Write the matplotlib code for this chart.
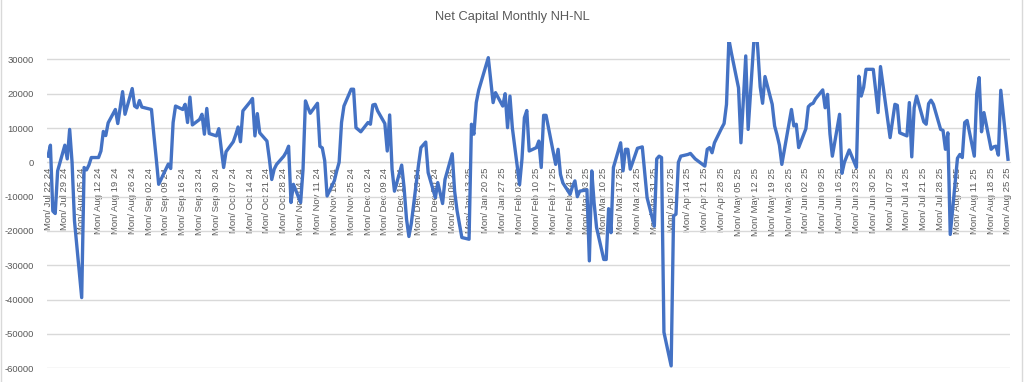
import numpy as np
import pandas as pd
import matplotlib
matplotlib.use("Agg")
import matplotlib.pyplot as plt
from matplotlib.patches import Rectangle

# daily NH-NL net capital readings
dates = [
    "2024-07-22", "2024-07-23", "2024-07-24", "2024-07-25", "2024-07-26", "2024-07-29", "2024-07-30", "2024-07-31",
    "2024-08-01", "2024-08-02", "2024-08-05", "2024-08-06", "2024-08-07", "2024-08-08", "2024-08-09", "2024-08-12",
    "2024-08-13", "2024-08-14", "2024-08-15", "2024-08-16", "2024-08-19", "2024-08-20", "2024-08-21", "2024-08-22",
    "2024-08-23", "2024-08-26", "2024-08-27", "2024-08-28", "2024-08-29", "2024-08-30",
    "2024-09-03", "2024-09-04", "2024-09-05", "2024-09-06", "2024-09-09", "2024-09-10", "2024-09-11", "2024-09-12",
    "2024-09-13", "2024-09-16", "2024-09-17", "2024-09-18", "2024-09-19", "2024-09-20", "2024-09-23", "2024-09-24",
    "2024-09-25", "2024-09-26", "2024-09-27", "2024-09-30",
    "2024-10-01", "2024-10-02", "2024-10-03", "2024-10-04", "2024-10-07", "2024-10-08", "2024-10-09", "2024-10-10",
    "2024-10-11", "2024-10-14", "2024-10-15", "2024-10-16", "2024-10-17", "2024-10-18", "2024-10-21", "2024-10-22",
    "2024-10-23", "2024-10-24", "2024-10-25", "2024-10-28", "2024-10-29", "2024-10-30", "2024-10-31",
    "2024-11-01", "2024-11-04", "2024-11-05", "2024-11-06", "2024-11-07", "2024-11-08", "2024-11-11", "2024-11-12",
    "2024-11-13", "2024-11-14", "2024-11-15", "2024-11-18", "2024-11-19", "2024-11-20", "2024-11-21", "2024-11-22",
    "2024-11-25", "2024-11-26", "2024-11-27", "2024-11-29",
    "2024-12-02", "2024-12-03", "2024-12-04", "2024-12-05", "2024-12-06", "2024-12-09", "2024-12-10", "2024-12-11",
    "2024-12-12", "2024-12-13", "2024-12-16", "2024-12-17", "2024-12-18", "2024-12-19", "2024-12-20", "2024-12-23",
    "2024-12-24", "2024-12-26", "2024-12-27", "2024-12-30", "2024-12-31",
    "2025-01-02", "2025-01-03", "2025-01-06", "2025-01-07", "2025-01-08", "2025-01-10", "2025-01-13", "2025-01-14",
    "2025-01-15", "2025-01-16", "2025-01-17", "2025-01-21", "2025-01-22", "2025-01-23", "2025-01-24", "2025-01-27",
    "2025-01-28", "2025-01-29", "2025-01-30", "2025-01-31",
    "2025-02-03", "2025-02-04", "2025-02-05", "2025-02-06", "2025-02-07", "2025-02-10", "2025-02-11", "2025-02-12",
    "2025-02-13", "2025-02-14", "2025-02-18", "2025-02-19", "2025-02-20", "2025-02-21", "2025-02-24", "2025-02-25",
    "2025-02-26", "2025-02-27", "2025-02-28",
    "2025-03-03", "2025-03-04", "2025-03-05", "2025-03-06", "2025-03-07", "2025-03-10", "2025-03-11", "2025-03-12",
    "2025-03-13", "2025-03-14", "2025-03-17", "2025-03-18", "2025-03-19", "2025-03-20", "2025-03-21", "2025-03-24",
    "2025-03-25", "2025-03-26", "2025-03-27", "2025-03-28", "2025-03-31",
    "2025-04-01", "2025-04-02", "2025-04-03", "2025-04-04", "2025-04-07", "2025-04-08", "2025-04-09", "2025-04-10",
    "2025-04-11", "2025-04-14", "2025-04-15", "2025-04-16", "2025-04-17", "2025-04-21", "2025-04-22", "2025-04-23",
    "2025-04-24", "2025-04-25", "2025-04-28", "2025-04-29", "2025-04-30",
    "2025-05-01", "2025-05-02", "2025-05-05", "2025-05-06", "2025-05-07", "2025-05-08", "2025-05-09", "2025-05-12",
    "2025-05-13", "2025-05-14", "2025-05-15", "2025-05-16", "2025-05-19", "2025-05-20", "2025-05-21", "2025-05-22",
    "2025-05-23", "2025-05-27", "2025-05-28", "2025-05-29", "2025-05-30",
    "2025-06-02", "2025-06-03", "2025-06-04", "2025-06-05", "2025-06-06", "2025-06-09", "2025-06-10", "2025-06-11",
    "2025-06-12", "2025-06-13", "2025-06-16", "2025-06-17", "2025-06-18", "2025-06-20", "2025-06-23", "2025-06-24",
    "2025-06-25", "2025-06-26", "2025-06-27", "2025-06-30",
    "2025-07-01", "2025-07-02", "2025-07-03", "2025-07-07", "2025-07-08", "2025-07-09", "2025-07-10", "2025-07-11",
    "2025-07-14", "2025-07-15", "2025-07-16", "2025-07-17", "2025-07-18", "2025-07-21", "2025-07-22", "2025-07-23",
    "2025-07-24", "2025-07-25", "2025-07-28", "2025-07-29", "2025-07-30", "2025-07-31",
    "2025-08-01", "2025-08-04", "2025-08-05", "2025-08-06", "2025-08-07", "2025-08-08", "2025-08-11", "2025-08-12",
    "2025-08-13", "2025-08-14", "2025-08-15", "2025-08-18", "2025-08-19", "2025-08-20", "2025-08-21", "2025-08-22",
    "2025-08-25",
]

net_nh_nl = [
    1800, 5000, -14200, -14900, -2500, 5000, 1000, 9600,
    0, -17000, -39400, -1500, -2200, -800, 1400, 1400,
    3300, 9000, 7800, 11500, 15400, 11300, 16000, 20600,
    14000, 21500, 16400, 15900, 18000, 16100,
    15400, 8000, 1000, -6400, -2000, -500, -1800, 11600,
    16400, 15400, 16900, 11600, 19000, 10900, 12500, 14000,
    8200, 15700, 8400, 7700,
    9800, 4000, -1500, 3100, 6000, 8000, 10300, 6000,
    15000, 17600, 18600, 7700, 14200, 8600, 6200, 1000,
    -5000, -2000, -600, 1800, 3000, 4700, -11700,
    -6400, -11700, -2000, 17900, 16000, 14300, 17200, 4700,
    4200, 500, -9800, -5400, -2500, 0, 11600, 16400,
    21300, 21300, 10100, 8900,
    11600, 11100, 16700, 16900, 15000, 11300, 3300, 13800,
    -2000, -8400, -800, -7400, -16500, -21600, -17800, -700,
    4300, 5900, -3000, -10300, -5900,
    -12000, -5000, 2500, -8400, -14000, -21900, -22400, 11100,
    8200, 17400, 21000, 30500, 24000, 17400, 20300, 16400,
    20000, 10100, 19300, 10000,
    -6500, 1000, 13000, 15100, 3300, 4300, 6200, -1500,
    13700, 13700, -600, 3800, -3500, -6000, -9300, -7000,
    -5400, -10000, -8400,
    -8000, -28700, -2500, -12000, -19000, -28300, -28300, -13500,
    -20500, -1500, 5700, -2500, 3800, 3800, -2000, 4100,
    4300, 4500, -3000, -10300, -18600,
    1000, 1800, 1400, -49500, -59300, -15600, -15100, 0,
    1800, 2300, 2600, 1800, 1000, -1100, 3800, 4300,
    2800, 5700, 10000, 11300, 16900,
    35800, 32000, 21700, 5700, 18000, 31000, 9600, 42000,
    33000, 22000, 17200, 25000, 16900, 10600, 8000, 5000,
    -600, 15400, 10600, 11100, 4300,
    9800, 16200, 16900, 17200, 18500, 21100, 15900, 19800,
    8300, 1800, 14000, -3200, 0, 3600, -1500, 25100,
    19300, 21800, 27100, 27100,
    21000, 14500, 27900, 7200, 12000, 16900, 16600, 8600,
    7700, 17400, 1600, 15900, 19300, 11800, 11100, 17100,
    18100, 16900, 9600, 9300, 3800, 8600,
    -21000, 1200, 2300, 1400, 11600, 12200, 1800, 20000,
    24700, 8900, 14500, 3800, 4500, 4700, 2100, 21000,
    900,
]

y_ticks = np.arange(-60000, 30001, 10000)
week_ticks = pd.date_range("2024-07-22", "2025-08-25", freq="7D")
week_labels = [f"Mon/ {d:%b %d %y}" for d in week_ticks]

text_color = "#595959"
grid_color = "#d9d9d9"
line_color = "#4472C4"
plt.rcParams["font.family"] = ["Liberation Sans", "DejaVu Sans"]

W, H = 1024, 382
fig = plt.figure(figsize=(W / 100, H / 100), dpi=100)
fig.patch.set_facecolor("white")

left, right = 46.5, 1010
top, bottom = 42.2, 368.3
ax = fig.add_axes([left / W, 1 - bottom / H, (right - left) / W, (bottom - top) / H])

x = pd.to_datetime(dates)
ax.plot(x, net_nh_nl, color=line_color, lw=2.4, solid_joinstyle="round")

ax.set_ylim(-60000, 35000)
ax.set_xlim(pd.Timestamp("2024-07-22") - pd.Timedelta(hours=15),
            pd.Timestamp("2025-08-25") + pd.Timedelta(hours=20))

ax.set_yticks(y_ticks)
ax.set_yticklabels([str(v) for v in y_ticks])
ax.yaxis.grid(True, color=grid_color, lw=1)
ax.set_axisbelow(True)

ax.set_xticks(week_ticks)
ax.set_xticklabels(week_labels)

for side in ["top", "right", "left"]:
    ax.spines[side].set_visible(False)
ax.spines["bottom"].set_position(("data", 0))
ax.spines["bottom"].set_color(grid_color)
ax.spines["bottom"].set_zorder(0.5)

ax.tick_params(axis="x", length=0, pad=4, labelsize=6.8, labelcolor=text_color, labelrotation=90)
ax.tick_params(axis="y", length=0, pad=9, labelsize=6.8, labelcolor=text_color)

fig.text(0.5, 1 - 17 / H, "Net Capital Monthly NH-NL", ha="center", va="center",
         fontsize=9.3, color=text_color)

# chart area border
fig.patches.append(Rectangle((1 / W, -0.02), 1020.5 / W, 1.05, transform=fig.transFigure,
                             fill=False, edgecolor=grid_color, lw=1))

fig.savefig("out.png", dpi=100)
